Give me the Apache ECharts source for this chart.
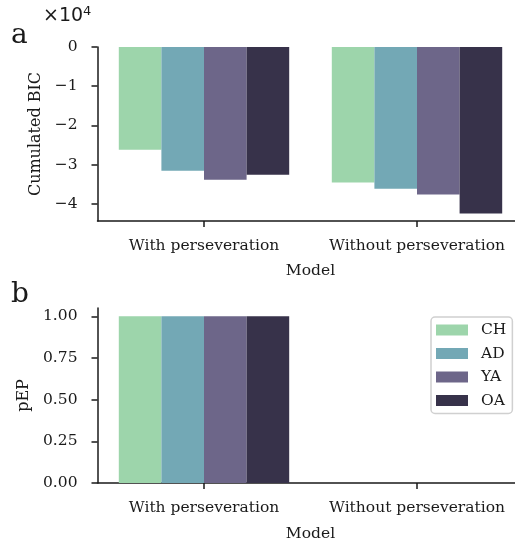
<!DOCTYPE html>
<html><head><meta charset="utf-8">
<script src="https://cdn.jsdelivr.net/npm/echarts@6/dist/echarts.min.js"></script>
<style>html,body{margin:0;padding:0;background:#fff}#c{width:515px;height:543px}</style>
</head><body><div id="c"></div>
<script>
const categories = ['With perseveration', 'Without perseveration'];
const groups = ['CH', 'AD', 'YA', 'OA'];
const colors = ['#9dd5ab', '#73a8b5', '#6d6689', '#37324a'];
const bicCH = [-26200, -34600];
const bicAD = [-31550, -36150];
const bicYA = [-33850, -37650];
const bicOA = [-32600, -42500];
const pepCH = [1.0, 0.0];
const pepAD = [1.0, 0.0];
const pepYA = [1.0, 0.0];
const pepOA = [1.0, 0.0];
const bicTicks = [0, -10000, -20000, -30000, -40000];
const pepTicks = [0, 0.25, 0.5, 0.75, 1.0];

const bic = [bicCH, bicAD, bicYA, bicOA];
const pep = [pepCH, pepAD, pepYA, pepOA];
const FONT = 'DejaVu Serif';
const FS = 15.5;
const ink = '#1a1a1a';

function xAxis(gi, gap) {
  return {
    type: 'category', gridIndex: gi, data: categories,
    name: 'Model', nameLocation: 'middle', nameGap: gap,
    nameTextStyle: {fontFamily: FONT, fontSize: FS, color: ink},
    axisLine: {onZero: false, lineStyle: {color: ink, width: 1.5}},
    axisTick: {show: true, interval: 0, alignWithLabel: true, length: 6, lineStyle: {color: ink, width: 1.5}},
    axisLabel: {interval: 0, hideOverlap: false, fontFamily: FONT, fontSize: FS, color: ink, margin: 17}
  };
}
const chart = echarts.init(document.getElementById('c'));
const series = [];
groups.forEach((g, i) => {
  series.push({name: g, type: 'bar', xAxisIndex: 0, yAxisIndex: 0, data: bic[i],
    itemStyle: {color: colors[i]}, barGap: '0%', barCategoryGap: '20%'});
  series.push({name: g, type: 'bar', xAxisIndex: 1, yAxisIndex: 1, data: pep[i],
    itemStyle: {color: colors[i]}, barGap: '0%', barCategoryGap: '20%'});
});
chart.setOption({
  animation: false,
  grid: [
    {left: 97.5, top: 47, width: 426, height: 174, outerBoundsMode: 'none', containLabel: false},
    {left: 97.5, top: 308, width: 426, height: 175, outerBoundsMode: 'none', containLabel: false}
  ],
  xAxis: [xAxis(0, 42), xAxis(1, 43)],
  yAxis: [
    {type: 'value', gridIndex: 0, min: -44400, max: 0,
     name: 'Cumulated BIC', nameLocation: 'middle', nameGap: 53, nameRotate: 90,
     nameTextStyle: {fontFamily: FONT, fontSize: 16, color: ink},
     splitLine: {show: false},
     axisLine: {show: true, onZero: false, lineStyle: {color: ink, width: 1.5}},
     axisTick: {show: true, length: 6, customValues: bicTicks, lineStyle: {color: ink, width: 1.5}},
     axisLabel: {fontFamily: FONT, fontSize: FS, color: ink, margin: 20, customValues: bicTicks,
       formatter: v => v === 0 ? '0' : '\u2212' + Math.round(Math.abs(v) / 10000)}},
    {type: 'value', gridIndex: 1, min: 0, max: 1.05,
     name: 'pEP', nameLocation: 'middle', nameGap: 63, nameRotate: 90,
     nameTextStyle: {fontFamily: FONT, fontSize: 16, color: ink},
     splitLine: {show: false},
     axisLine: {show: true, onZero: false, lineStyle: {color: ink, width: 1.5}},
     axisTick: {show: true, length: 6, customValues: pepTicks, lineStyle: {color: ink, width: 1.5}},
     axisLabel: {fontFamily: FONT, fontSize: FS, color: ink, margin: 20, customValues: pepTicks,
       formatter: v => v.toFixed(2)}}
  ],
  legend: {
    data: groups, orient: 'vertical', left: 431, top: 317,
    itemWidth: 32, itemHeight: 11, itemGap: 7.5,
    padding: [5, 6, 5, 5],
    borderColor: '#d0d0d0', borderWidth: 1.5, borderRadius: 4,
    backgroundColor: '#fff',
    textStyle: {fontFamily: FONT, fontSize: FS, lineHeight: 16, color: ink, padding: [0, 0, 0, 8]},
    icon: 'rect'
  },
  graphic: [
    {type: 'text', left: 11, top: 22, style: {text: 'a', font: '28px "DejaVu Serif"', fill: ink}},
    {type: 'text', left: 11, top: 281, style: {text: 'b', font: '28px "DejaVu Serif"', fill: ink}},
    {type: 'text', left: 43, top: 5, style: {text: '\u00d710{s|4}', font: '19px "DejaVu Sans"', fill: ink,
      rich: {s: {fontSize: 13, fontFamily: 'DejaVu Sans', verticalAlign: 'top', padding: [0,0,9,0]}}}}
  ],
  series: series
});
</script></body></html>
